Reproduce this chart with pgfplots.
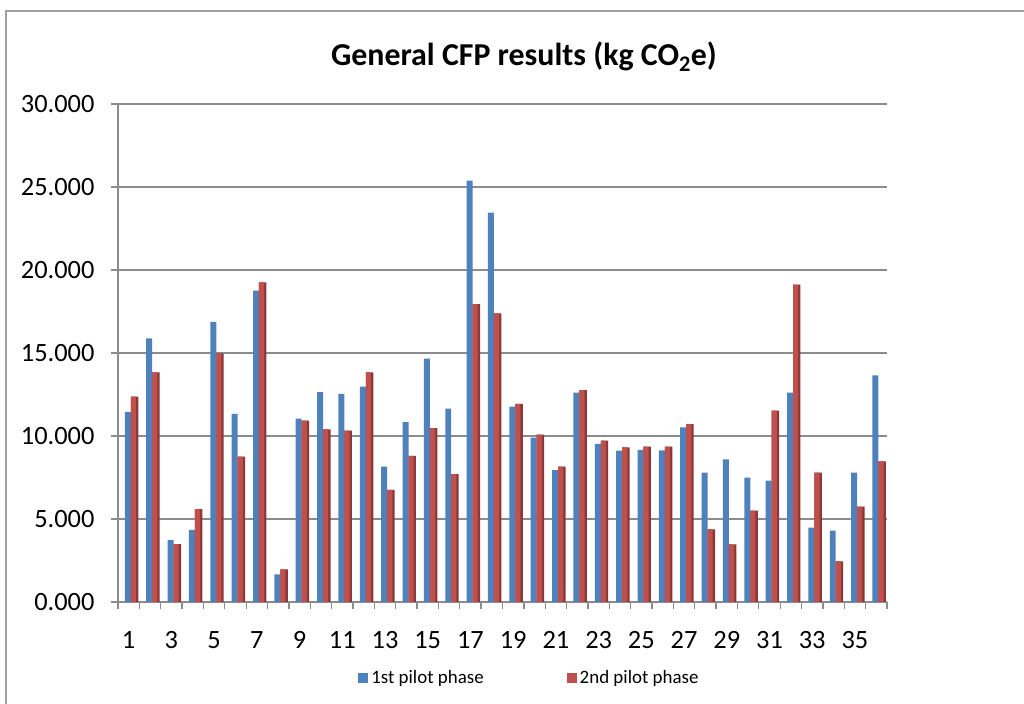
\documentclass[border=0pt]{standalone}
\usepackage{pgfplots}
\pgfplotsset{compat=1.18}
\usepackage{fontspec}
\setmainfont{Carlito}
\definecolor{bluef}{HTML}{4F81BD}
\definecolor{blued}{HTML}{385D8A}
\definecolor{redf}{HTML}{C0504D}
\definecolor{redd}{HTML}{8C3836}
\definecolor{gridc}{HTML}{8C8C8C}
\definecolor{framec}{HTML}{A0A0A0}

\pgfplotstableread{
x b r
1 11.46 12.37
2 15.88 13.84
3 3.73 3.49
4 4.34 5.60
5 16.87 14.98
6 11.33 8.75
7 18.75 19.26
8 1.67 1.97
9 11.04 10.92
10 12.65 10.40
11 12.53 10.32
12 12.97 13.84
13 8.15 6.75
14 10.84 8.81
15 14.66 10.48
16 11.65 7.71
17 25.38 17.95
18 23.45 17.39
19 11.77 11.93
20 9.90 10.08
21 7.95 8.15
22 12.61 12.77
23 9.52 9.72
24 9.12 9.32
25 9.16 9.36
26 9.14 9.36
27 10.52 10.72
28 7.79 4.38
29 8.59 3.47
30 7.49 5.50
31 7.31 11.53
32 12.61 19.12
33 4.48 7.79
34 4.30 2.45
35 7.79 5.74
36 13.65 8.47
}\datatable

\begin{document}
\begin{tikzpicture}[x=1bp,y=1bp]
\draw[framec, line width=1.3bp] (6,0) -- (6,693) -- (1024,693);
\begin{axis}[
  at={(118bp,102bp)}, anchor=south west,
  scale only axis, width=769bp, height=498bp,
  xmin=0.5, xmax=36.5, ymin=0, ymax=30,
  ybar,
  axis x line*=bottom, axis y line*=left,
  axis line style={-, gridc, line width=1.5bp},
  ymajorgrids, grid style={gridc, line width=1.5bp},
  ytick={0,5,...,30},
  tick align=outside, major tick length=7bp,
  tick style={gridc, line width=1.3bp},
  xtick={0.5,1.5,...,36.5}, xticklabels={},
  extra x ticks={1,3,...,35},
  extra x tick labels={1,3,5,7,9,11,13,15,17,19,21,23,25,27,29,31,33,35},
  extra x tick style={tick style={draw=none}, grid=none},
  /pgf/number format/assume math mode=true,
  ticklabel style={font=\fontsize{26.5}{30}\selectfont, text=black},
  yticklabel style={xshift=-13bp, /pgf/number format/.cd, fixed, fixed zerofill, precision=3},
  x tick label style={yshift=-19bp},
  legend style={at={(0.535,-0.152)}, anchor=center, draw=none, fill=none,
    legend columns=2, font=\fontsize{19}{22}\selectfont,
    /tikz/every even column/.append style={column sep=81bp}},
  legend image code/.code={\path[#1, draw=none] (0bp,-5bp) rectangle (10bp,5bp); \path (11bp,0bp);},
  clip=false,
]
\addplot[fill=bluef, draw=none, bar width=0.28, bar shift=-0.04] table[x=x, y=b] {\datatable};
\addlegendentry{1st pilot phase}
\addplot[fill=redd, draw=none, bar width=0.35, bar shift=0.275, forget plot] table[x=x, y=r] {\datatable};
\addplot[fill=redf, draw=none, bar width=0.24, bar shift=0.22] table[x=x, y=r] {\datatable};
\addlegendentry{2nd pilot phase}
\end{axis}
\node[font=\fontsize{32}{36}\selectfont\bfseries, anchor=center] at (524bp,647bp) {General CFP results (kg CO\textsubscript{2}e)};
\pgfresetboundingbox
\useasboundingbox (0,0) rectangle (1024bp,704bp);
\end{tikzpicture}
\end{document}
